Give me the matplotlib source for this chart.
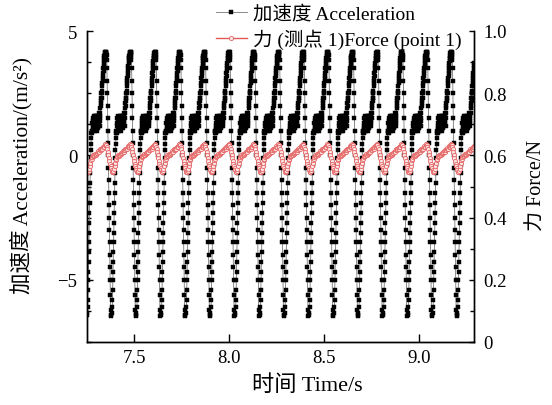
import numpy as np
import matplotlib
matplotlib.use('Agg')
import matplotlib.pyplot as plt
from matplotlib.ticker import MultipleLocator, FixedLocator, FixedFormatter

plt.rcParams['font.family'] = ['Liberation Serif', 'Noto Sans CJK SC']
plt.rcParams['axes.unicode_minus'] = True

# ---- data ----
# time of each acceleration peak (s)
cycle_peak_times = [7.221, 7.351, 7.481, 7.611, 7.741, 7.871, 8.001, 8.131,
                    8.261, 8.390, 8.520, 8.650, 8.780, 8.910, 9.040, 9.170, 9.300]

# one representative acceleration cycle: time after peak (ms) and value (m/s^2)
acc_tau_ms = [*range(0, 25), 26, 28, 30, *range(33, 55), *range(56, 130)]
acc_values = [
    4.10, 4.15, 3.95, 4.05, 3.85,
    3.5, 3.0, 2.5, 2.0, 1.5, 1.0, 0.5, 0.0, -0.5, -1.0, -1.5, -2.0, -2.5, -3.0, -3.5,
    -4.0, -4.5, -5.0, -5.6, -6.2,
    -6.45, -6.4, -6.35,
    -6.1, -5.8, -5.4, -5.0, -4.7, -4.3, -3.9, -3.5, -3.1, -2.7, -2.3, -1.9, -1.5, -1.1,
    -0.7, -0.4, -0.1, 0.2, 0.45, 0.7, 0.9, 1.0,
    1.0, 1.3, 0.9, 1.2, 1.5, 1.1, 1.4, 1.0, 1.3, 1.6, 1.2, 1.4, 1.1, 1.5, 1.3, 1.0,
    1.4, 1.6, 1.2, 1.3, 1.5, 1.1, 1.4, 1.6, 1.2, 1.0, 1.5, 1.3, 1.6, 1.2, 1.4, 1.1,
    1.5, 1.3, 1.6, 1.4, 1.2, 1.5, 1.7, 1.3, 1.6, 1.4, 1.2, 1.5, 1.7,
    1.9, 2.1, 2.0, 2.3, 2.2, 2.5, 2.3, 2.6, 2.5, 2.8,
    2.9, 3.1, 3.0, 3.3, 3.2, 3.5, 3.4, 3.6, 3.7,
    3.8, 3.9, 4.0, 3.9, 4.1, 4.0, 4.15, 4.05, 4.1, 4.15,
]

# one representative force cycle: time after acceleration peak (ms) and value (N)
force_tau_ms = [0, 3, 6, 9, 12, 15, 18, 21, 24, 27, 30, 33, 36, 39, 42, 45, 48, 51,
                54, 57, 60, 63, 66, 69, 72, 75, 78, 81, 84, 87, 90, 93, 96, 99, 102,
                105, 108, 111, 114, 117, 120, 123, 126, 129]
force_values = [0.635, 0.628, 0.620, 0.610, 0.602, 0.593, 0.582, 0.572, 0.565, 0.558,
                0.552, 0.548, 0.547, 0.550, 0.556, 0.565, 0.575, 0.584, 0.590, 0.594,
                0.597, 0.600, 0.598, 0.601, 0.604, 0.602, 0.606, 0.609, 0.607, 0.611,
                0.614, 0.612, 0.616, 0.619, 0.617, 0.621, 0.624, 0.622, 0.627, 0.630,
                0.628, 0.633, 0.636, 0.634]

x_ticks = [7.5, 8.0, 8.5, 9.0]
x_tick_labels = ['7.5', '8.0', '8.5', '9.0']
acc_ticks = [-5, 0, 5]
force_ticks = [0, 0.2, 0.4, 0.6, 0.8, 1.0]
force_tick_labels = ['0', '0.2', '0.4', '0.6', '0.8', '1.0']

acc_label = '加速度 Acceleration'
force_label = '力 (测点 1)Force (point 1)'

# ---- build series ----
t_acc = np.concatenate([p + np.array(acc_tau_ms) / 1000.0 for p in cycle_peak_times])
acc = np.tile(acc_values, len(cycle_peak_times))
t_f = np.concatenate([p + np.array(force_tau_ms) / 1000.0 for p in cycle_peak_times])
force = np.tile(force_values, len(cycle_peak_times))

fig = plt.figure(figsize=(5.52, 4.06), dpi=100)
ax = fig.add_axes([87 / 552, 1 - 343 / 406, (474 - 87) / 552, (343 - 32) / 406])
ax2 = ax.twinx()

l1, = ax.plot(t_acc, acc, color='#777777', lw=0.6, marker='s', ms=2.2,
              mfc='black', mec='black', mew=0.3)
l2, = ax2.plot(t_f, force, color='#e25a5a', lw=1.0, marker='o', ms=3.0,
               mfc='#fde6e6', mec='#e56565', mew=0.6)

ax.set_xlim(7.251, 9.288)
ax.set_ylim(-7.5, 5)
ax2.set_ylim(0, 1.0)

ax.xaxis.set_major_locator(FixedLocator(x_ticks))
ax.xaxis.set_major_formatter(FixedFormatter(x_tick_labels))
ax.yaxis.set_major_locator(FixedLocator(acc_ticks))
ax.yaxis.set_minor_locator(MultipleLocator(1.25))
ax2.yaxis.set_major_locator(FixedLocator(force_ticks))
ax2.yaxis.set_major_formatter(FixedFormatter(force_tick_labels))
ax2.yaxis.set_minor_locator(MultipleLocator(0.1))

for a in (ax, ax2):
    a.spines['top'].set_visible(False)
    for s in a.spines.values():
        s.set_linewidth(1.0)

ax.tick_params(axis='x', direction='in', length=5.5, width=1, labelsize=13.5, pad=5, top=False)
ax.tick_params(axis='y', which='major', direction='in', length=4.5, width=1, labelsize=13.5, pad=7, right=False)
ax.tick_params(axis='y', which='minor', direction='in', length=3, width=1, right=False)
ax2.tick_params(axis='y', which='major', direction='in', length=3.5, width=1, labelsize=13.5, pad=7)
ax2.tick_params(axis='y', which='minor', direction='in', length=3, width=1)

ax.set_xlabel('时间 Time/s', fontsize=16)
ax.xaxis.set_label_coords((307 - 87) / 387, -0.105)
ax.set_ylabel('加速度 Acceleration/(m/s²)', fontsize=15.5)
ax.yaxis.set_label_coords(-0.14, 0.54)
ax2.set_ylabel('力 Force/N', fontsize=14.5, rotation=90)
ax2.yaxis.set_label_coords(1.138, 0.508)

fig.legend(handles=[l1, l2], labels=[acc_label, force_label], loc='upper left',
           bbox_to_anchor=(212 / 552, 0.995), frameon=False, fontsize=14,
           handlelength=1.6, handletextpad=0.3, labelspacing=0.3, borderpad=0.2,
           borderaxespad=0)

fig.savefig('out.png', dpi=100)
